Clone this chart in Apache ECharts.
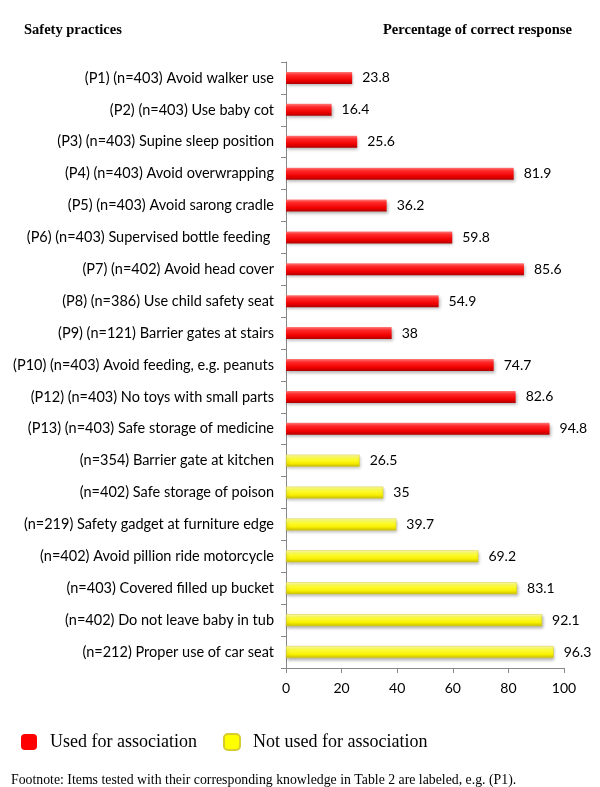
<!DOCTYPE html>
<html>
<head>
<meta charset="utf-8">
<script src="https://cdn.jsdelivr.net/npm/echarts@6/dist/echarts.min.js"></script>
<style>html,body{margin:0;padding:0;background:#fff}#c{width:600px;height:787px}</style>
</head>
<body>
<div id="c"></div>
<script>
const categories = [
  "(P1) (n=403) Avoid walker use",
  "(P2) (n=403) Use baby cot",
  "(P3) (n=403) Supine sleep position",
  "(P4) (n=403) Avoid overwrapping",
  "(P5) (n=403) Avoid sarong cradle",
  "(P6) (n=403) Supervised bottle feeding ",
  "(P7) (n=402) Avoid head cover",
  "(P8) (n=386) Use child safety seat",
  "(P9) (n=121) Barrier gates at stairs",
  "(P10) (n=403) Avoid feeding, e.g. peanuts",
  "(P12) (n=403) No toys with small parts",
  "(P13) (n=403) Safe storage of medicine",
  "(n=354) Barrier gate at kitchen",
  "(n=402) Safe storage of poison",
  "(n=219) Safety gadget at furniture edge",
  "(n=402) Avoid pillion ride motorcycle",
  "(n=403) Covered filled up bucket",
  "(n=402) Do not leave baby in tub",
  "(n=212) Proper use of car seat"
];
const usedValues = [23.8, 16.4, 25.6, 81.9, 36.2, 59.8, 85.6, 54.9, 38, 74.7, 82.6, 94.8, null, null, null, null, null, null, null];
const notUsedValues = [null, null, null, null, null, null, null, null, null, null, null, null, 26.5, 35, 39.7, 69.2, 83.1, 92.1, 96.3];
const xTicks = [0, 20, 40, 60, 80, 100];

const chart = echarts.init(document.getElementById('c'));
const redGrad = new echarts.graphic.LinearGradient(0, 0, 0, 1, [
  {offset: 0, color: '#ff7a7a'},
  {offset: 0.25, color: '#ff2a2a'},
  {offset: 0.7, color: '#f00000'},
  {offset: 1, color: '#b00000'}
]);
const yelGrad = new echarts.graphic.LinearGradient(0, 0, 0, 1, [
  {offset: 0, color: '#ffffb0'},
  {offset: 0.3, color: '#ffff40'},
  {offset: 0.7, color: '#f8f000'},
  {offset: 1, color: '#c8bc00'}
]);
const labelStyle = {show: true, position: 'right', distance: 10, color: '#000', fontFamily: 'Lato', fontSize: 14};
chart.setOption({
  animation: false,
  grid: {left: 286, right: 36, top: 62, bottom: 119, containLabel: false},
  graphic: [
    {type: 'text', left: 24, top: 23, style: {text: 'Safety practices', font: 'bold 14.5px "Liberation Serif"', fill: '#000'}},
    {type: 'text', left: 383, top: 23, style: {text: 'Percentage of correct response', font: 'bold 14.5px "Liberation Serif"', fill: '#000'}},
    {type: 'text', left: 11, top: 773, style: {text: 'Footnote: Items tested with their corresponding knowledge in Table 2 are labeled, e.g. (P1).', font: '13.8px "Liberation Serif"', fill: '#000'}}
  ],
  legend: {
    left: 16, top: 728, itemWidth: 16, itemHeight: 16, itemGap: 26, icon: 'roundRect',
    textStyle: {fontFamily: 'Liberation Serif', fontSize: 18, color: '#000', padding: [0, 0, 0, 8]},
    data: [
      {name: 'Used for association', itemStyle: {color: '#ff0000'}},
      {name: 'Not used for association', itemStyle: {color: '#ffff00'}}
    ]
  },
  xAxis: {
    type: 'value', min: 0, max: 100, interval: 20,
    axisLine: {show: true, lineStyle: {color: '#888'}},
    axisTick: {show: true, inside: false, length: 5, lineStyle: {color: '#888'}},
    splitLine: {show: false},
    axisLabel: {color: '#000', fontFamily: 'Lato', fontSize: 14, margin: 13,
      formatter: v => xTicks.includes(v) ? String(v) : ''}
  },
  yAxis: {
    type: 'category', data: categories, inverse: true,
    axisLine: {show: true, lineStyle: {color: '#888'}},
    axisTick: {show: true, length: 5, lineStyle: {color: '#888'}},
    axisLabel: {color: '#000', fontFamily: 'Lato', fontSize: 14.5, margin: 12}
  },
  series: [
    {name: 'Used for association', type: 'bar', data: usedValues, barWidth: 12, barGap: '-100%',
      itemStyle: {color: redGrad, shadowColor: 'rgba(0,0,0,0.3)', shadowBlur: 3, shadowOffsetY: 2, shadowOffsetX: 1},
      label: labelStyle},
    {name: 'Not used for association', type: 'bar', data: notUsedValues, barWidth: 12, barGap: '-100%',
      itemStyle: {color: yelGrad, borderColor: '#d8cc30', borderWidth: 0.5, shadowColor: 'rgba(0,0,0,0.3)', shadowBlur: 3, shadowOffsetY: 2, shadowOffsetX: 1},
      label: labelStyle}
  ]
});
</script>
</body>
</html>
